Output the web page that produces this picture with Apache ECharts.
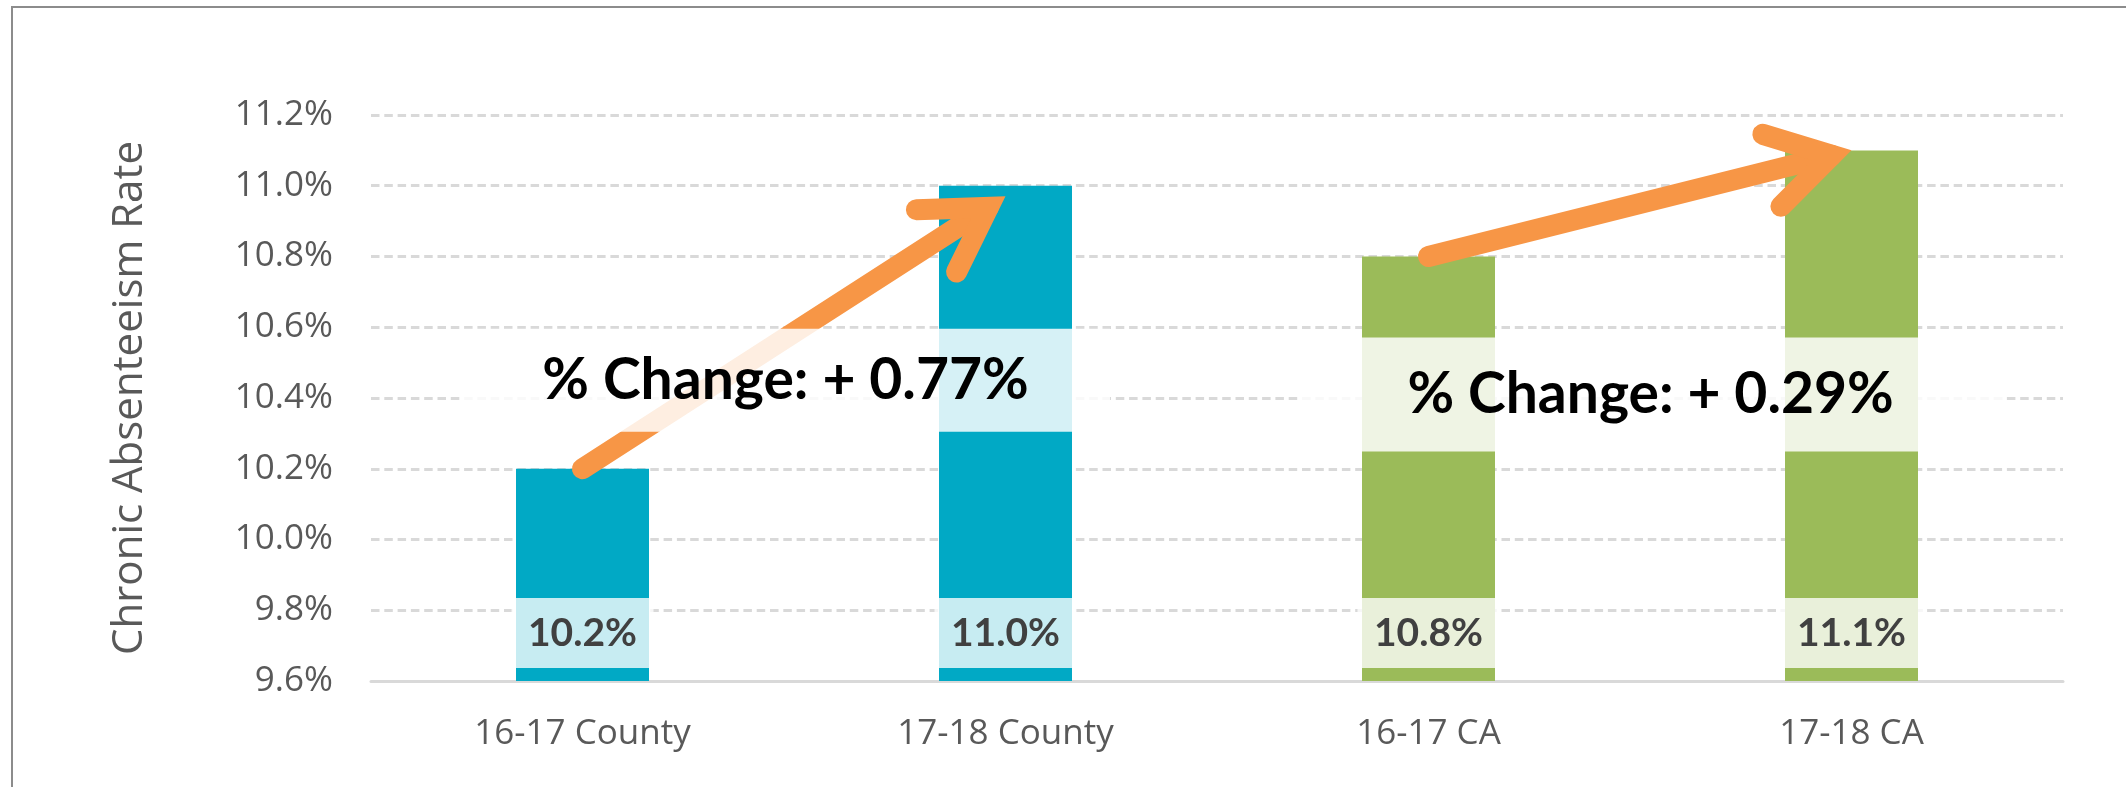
<!DOCTYPE html>
<html>
<head>
<meta charset="utf-8">
<title>Chronic Absenteeism Rate</title>
<script src="https://cdn.jsdelivr.net/npm/echarts@6/dist/echarts.min.js"></script>
<style>
  html, body { margin: 0; padding: 0; background: #fff; }
  body { position: relative; width: 2126px; height: 787px; overflow: hidden; }
  #frame { position: absolute; left: 11px; top: 6px; width: 2300px; height: 900px; border: 2px solid #8c8c8c; }
  #chart { position: absolute; left: 0; top: 0; width: 2126px; height: 787px; }
</style>
</head>
<body>
<div id="frame"></div>
<div id="chart"></div>
<script>
const categories = ['16-17 County', '17-18 County', '16-17 CA', '17-18 CA']
const rates = [10.2, 11.0, 10.8, 11.1]
const rateLabels = ['10.2%', '11.0%', '10.8%', '11.1%']
const barColors = ['#01a9c5', '#01a9c5', '#9bbb59', '#9bbb59']

// arrows, [category index, value] for tail and tip
const arrowTails = [[0, 10.2], [2, 10.8]]
const arrowTips = [[1, 10.97], [3, 11.1]]

// change notes: from category, to category, fraction between them, value
const changeTexts = ['% Change: + 0.77%', '% Change: + 0.29%']
const changeAnchors = [[0, 1, 0.48, 10.45], [2, 3, 0.525, 10.41]]

const axisFont = 'Open Sans'
const noteBoxes = [[649, 103], [703, 114]]

const ORANGE = '#f79646'

function renderArrow(params, api) {
  const i = params.dataIndex
  const a = api.coord(arrowTails[i])
  const tip = api.coord(arrowTips[i])
  const w = 21
  const spread = 31 * Math.PI / 180
  const armLen = 72
  const back = Math.atan2(a[1] - tip[1], a[0] - tip[0])
  // pull the vertex back so the mitred point lands on the tip
  const ext = (w / 2) / Math.sin(spread)
  const v = [tip[0] + ext * Math.cos(back), tip[1] + ext * Math.sin(back)]
  const arm = (s) => [v[0] + armLen * Math.cos(back + s), v[1] + armLen * Math.sin(back + s)]
  const style = { stroke: ORANGE, lineWidth: w, lineCap: 'round', lineJoin: 'miter', fill: null }
  return {
    type: 'group',
    children: [
      { type: 'line', shape: { x1: a[0], y1: a[1], x2: v[0], y2: v[1] }, style },
      { type: 'polyline', shape: { points: [arm(spread), v, arm(-spread)] }, style },
    ],
  }
}

function renderNote(params, api) {
  const i = params.dataIndex
  const [c0, c1, f, val] = changeAnchors[i]
  const p0 = api.coord([c0, val])
  const p1 = api.coord([c1, val])
  const x = p0[0] + (p1[0] - p0[0]) * f
  const y = p0[1]
  const [bw, bh] = noteBoxes[i]
  return {
    type: 'group',
    children: [
      {
        type: 'rect',
        shape: { x: x - bw / 2, y: y - bh / 2, width: bw, height: bh },
        style: { fill: 'rgba(255,255,255,0.84)' },
      },
      {
        type: 'text',
        x: x,
        y: y,
        style: {
          text: changeTexts[i],
          fontFamily: 'Lato',
          fontWeight: 'bold',
          fontSize: 57,
          fill: '#000',
          align: 'center',
          verticalAlign: 'middle',
        },
      },
    ],
  }
}

const chart = echarts.init(document.getElementById('chart'), null, { renderer: 'canvas' })

chart.setOption({
  animation: false,
  grid: { left: 371, right: 63, top: 115, bottom: 106 },
  xAxis: {
    type: 'category',
    data: categories,
    axisTick: { show: false },
    axisLine: { lineStyle: { color: '#d9d9d9', width: 3 } },
    axisLabel: { color: '#595959', fontSize: 35, fontFamily: axisFont, margin: 36 },
  },
  yAxis: {
    type: 'value',
    min: 9.6,
    max: 11.2,
    interval: 0.2,
    name: 'Chronic Absenteeism Rate',
    nameLocation: 'middle',
    nameGap: 220,
    nameTextStyle: { color: '#595959', fontSize: 42, fontFamily: axisFont },
    axisLine: { show: false },
    axisTick: { show: false },
    axisLabel: {
      color: '#595959',
      fontSize: 35,
      fontFamily: axisFont,
      margin: 38,
      formatter: (v) => v.toFixed(1) + '%',
    },
    splitLine: { lineStyle: { color: '#d9d9d9', width: 3, type: [8.5, 4.8] } },
  },
  series: [
    {
      type: 'bar',
      barWidth: 133,
      z: 2,
      data: rates.map((r, i) => ({ value: r, itemStyle: { color: barColors[i] } })),
      label: {
        show: true,
        position: 'insideBottom',
        distance: 0,
        offset: [0, -13],
        formatter: (p) => rateLabels[p.dataIndex],
        width: 142,
        lineHeight: 40,
        padding: [15, 0, 15, 0],
        align: 'center',
        backgroundColor: 'rgba(255,255,255,0.78)',
        color: '#404040',
        fontFamily: 'Lato',
        fontWeight: 'bold',
        fontSize: 39,
      },
    },
    {
      type: 'custom',
      z: 3,
      silent: true,
      encode: { x: 0, y: 1 },
      data: arrowTails,
      renderItem: renderArrow,
    },
    {
      type: 'custom',
      z: 4,
      silent: true,
      encode: { x: 0, y: 1 },
      data: changeAnchors.map((a) => [a[0], a[3]]),
      renderItem: renderNote,
    },
  ],
})
</script>
</body>
</html>
